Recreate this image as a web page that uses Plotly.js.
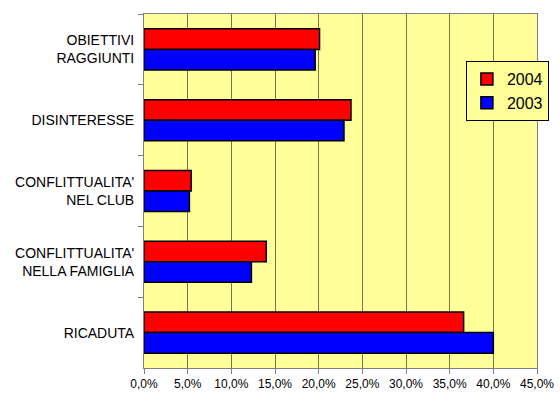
<!DOCTYPE html>
<html>
<head>
<meta charset="utf-8">
<script src="https://cdn.plot.ly/plotly-3.0.1.min.js"></script>
<style>html,body{margin:0;padding:0;background:#fff;}#chart{width:560px;height:402px;}</style>
</head>
<body>
<div id="chart"></div>
<script>
var categories = ["OBIETTIVI<br>RAGGIUNTI", "DISINTERESSE", "CONFLITTUALITA'<br>NEL CLUB", "CONFLITTUALITA'<br>NELLA FAMIGLIA", "RICADUTA"];
var values2004 = [20.1, 23.7, 5.4, 14.0, 36.6];
var values2003 = [19.6, 22.9, 5.2, 12.3, 40.0];
var seriesNames = ["2004", "2003"];
var xTickVals = [0, 5, 10, 15, 20, 25, 30, 35, 40, 45];
var xTickText = xTickVals.map(function (v) { return v.toFixed(1).replace(".", ",") + "%"; });

var traces = [
  {type: "bar", orientation: "h", name: seriesNames[0], y: categories, x: values2004,
   marker: {color: "#FF0000", line: {color: "#000000", width: 1.5}}, hoverinfo: "x"},
  {type: "bar", orientation: "h", name: seriesNames[1], y: categories, x: values2003,
   marker: {color: "#0000FF", line: {color: "#000000", width: 1.5}}, hoverinfo: "x"}
];

var layout = {
  width: 560, height: 402,
  margin: {l: 144, r: 22, t: 14, b: 34, pad: 0},
  paper_bgcolor: "#FFFFFF",
  plot_bgcolor: "#FFFF99",
  separators: ",.",
  barmode: "group",
  bargap: 0.42,
  bargroupgap: 0,
  font: {family: "Liberation Sans, Arial, sans-serif", color: "#000000", size: 13},
  showlegend: true,
  legend: {x: 0.817, y: 0.867, xanchor: "left", yanchor: "top",
    bgcolor: "#FFFF99", bordercolor: "#000000", borderwidth: 1,
    font: {size: 16, family: "Liberation Sans, Arial, sans-serif"},
    itemwidth: 30, tracegroupgap: 0},
  xaxis: {range: [0, 45], tickvals: xTickVals, ticktext: xTickText,
    showgrid: true, gridcolor: "#767650", gridwidth: 1,
    zeroline: false, showline: true, linecolor: "#808080", linewidth: 1, mirror: true,
    ticks: "outside", ticklen: 5, tickcolor: "#808080",
    tickfont: {size: 12}, fixedrange: true},
  yaxis: {type: "category", autorange: "reversed", tickson: "boundaries",
    showgrid: false, showline: true, linecolor: "#808080", linewidth: 1, mirror: true,
    ticks: "outside", ticklen: 5, tickcolor: "#808080", ticklabelstandoff: 6,
    tickfont: {size: 14}, fixedrange: true}
};

Plotly.newPlot("chart", traces, layout, {displayModeBar: false, staticPlot: true});
</script>
</body>
</html>
